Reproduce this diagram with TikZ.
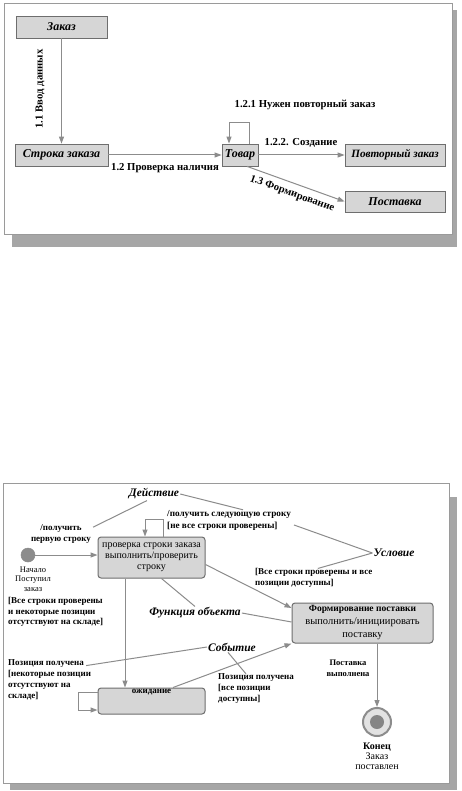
\documentclass[tikz,border=0pt]{standalone}
\usepackage{fontspec}
\setmainfont{Liberation Serif}
\usetikzlibrary{arrows.meta}
\definecolor{lc}{HTML}{8C8C8C}
\definecolor{bd}{HTML}{6E6E6E}
\definecolor{bf}{HTML}{D6D6D6}
\definecolor{fr}{HTML}{9A9A9A}
\definecolor{sh}{HTML}{A6A6A6}
\tikzset{
  frame/.style={draw=fr,line width=1pt,fill=white},
  shadowbox/.style={fill=sh},
  topbox/.style={draw=bd,fill=bf,line width=0.8pt,rectangle,inner sep=0pt,font=\fontsize{12}{14}\selectfont\bfseries\itshape},
  toplbl/.style={inner sep=0pt,font=\fontsize{10.7}{12}\selectfont\bfseries},
  gl/.style={draw=lc,line width=1pt},
  arr/.style={gl,-{Triangle[length=7pt,width=5pt]},color=lc},
  stbox/.style={draw=bd,fill=bf,line width=1pt,rounded corners=3pt,inner sep=0pt,align=center,font=\fontsize{10}{11}\selectfont},
  txt/.style={inner sep=0pt,align=left,font=\fontsize{9}{10.5}\selectfont\bfseries},
  ctxt/.style={inner sep=0pt,align=center,font=\fontsize{8.5}{9.5}\selectfont},
  big/.style={inner sep=1pt,font=\fontsize{11.5}{13}\selectfont\bfseries\itshape},
}
\begin{document}
\begin{tikzpicture}[x=1pt,y=-1pt]
\useasboundingbox (0,0) rectangle (462,791);
% ---------- top diagram ----------
\fill[shadowbox] (12,10) rectangle (457,247);
\draw[frame] (4,4) rectangle (452,235);
\node[topbox,minimum width=91pt,minimum height=22pt] (zakaz) at (61.5,27) {Заказ};
\node[topbox,minimum width=93pt,minimum height=22pt] (stroka) at (61.5,155) {Строка заказа};
\node[topbox,minimum width=36pt,minimum height=22pt] (tovar) at (240,155) {Товар};
\node[topbox,minimum width=100pt,minimum height=22pt,font=\fontsize{11.2}{14}\selectfont\bfseries\itshape] (povt) at (395,155) {Повторный заказ};
\node[topbox,minimum width=100pt,minimum height=21pt] (post) at (395,201.5) {Поставка};
\draw[arr] (zakaz) -- (stroka);
\draw[arr] (stroka) -- (tovar);
\draw[arr] (tovar) -- (povt);
\draw[arr] ([xshift=7pt]tovar.south) -- (post.west);
\draw[arr] ([xshift=9pt]tovar.north) -- ++(0,-21) -| ([xshift=-11pt]tovar.north);
\node[toplbl,rotate=90] (l11) at (40,89) {1.1 Ввод данных};
\node[toplbl] (l12) at (165,168) {1.2 Проверка наличия};
\node[toplbl] (l122) at (301,143) {1.2.2. Создание};
\node[toplbl] (l121) at (305,105) {1.2.1 Нужен повторный заказ};
\node[toplbl,rotate=-20] (l13) at (292,194) {1.3 Формирование};
% ---------- bottom diagram ----------
\fill[shadowbox] (10,497) rectangle (457,790);
\draw[frame] (3,483) rectangle (449,783);
\node[big] (act) at (154,494) {Действие};
\node[ctxt,font=\fontsize{9}{11.5}\selectfont\bfseries] (a1) at (61,534) {/получить\\первую строку};
\node[circle,fill=lc,draw=bd!80,line width=0.5pt,minimum size=14pt,inner sep=0pt] (start) at (28,555) {};
\node[ctxt] (startl) at (33,579) {Начало\\Поступил\\заказ};
\node[stbox,minimum width=107pt,minimum height=41pt] (b1) at (151.5,557.5) {проверка строки заказа\\выполнить/проверить\\строку};
\node[txt,anchor=west,font=\fontsize{9.2}{12}\selectfont\bfseries] (a2) at (167,520) {/получить следующую строку\\{}[не все строки проверены]};
\node[big] (cond) at (394,553) {Условие};
\node[txt,anchor=west] (g1) at (255,578) {[Все строки проверены и все\\позиции доступны]};
\node[stbox,minimum width=141pt,minimum height=40pt,font=\fontsize{10.5}{13}\selectfont] (b2) at (362.5,623) {{\fontsize{9.5}{13}\selectfont\bfseries Формирование поставки}\\выполнить/инициировать\\поставку};
\node[big] (func) at (195,613) {Функция объекта};
\node[txt,anchor=west] (g2) at (8,612) {[Все строки проверены\\и некоторые позиции\\отсутствуют на складе]};
\node[big] (ev) at (232,647) {Событие};
\node[txt,anchor=west,font=\fontsize{9}{11}\selectfont\bfseries] (p1) at (8,680) {Позиция получена\\{}[некоторые позиции\\отсутствуют на\\складе]};
\node[stbox,minimum width=107pt,minimum height=26pt,label={[anchor=north,inner sep=0pt,yshift=-2pt,font=\fontsize{9}{10}\selectfont\bfseries]north:ожидание}] (b3) at (151.5,701) {};
\node[txt,anchor=west,font=\fontsize{9}{11}\selectfont\bfseries] (p2) at (218,689) {Позиция получена\\{}[все позиции\\доступны]};
\node[ctxt,font=\fontsize{8.5}{11}\selectfont\bfseries] (done) at (348,668) {Поставка\\выполнена};
\node[circle,draw=lc,line width=2pt,fill=bf!70,minimum size=28pt,inner sep=0pt] (final) at (377,722) {};
\node[circle,fill=lc!95!black,minimum size=14pt,inner sep=0pt] (finalin) at (final) {};
\node[ctxt,font=\fontsize{10}{10}\selectfont] (endl) at (377,756) {\textbf{Конец}\\Заказ\\поставлен};
% connectors
\draw[gl] ([xshift=-7pt]act.south) -- ([xshift=2pt,yshift=-3pt]a1.north east);
\draw[gl] (act.east) -- ([xshift=14pt]a2.north);
\draw[arr] (start.east) -- (start.east -| b1.west);
\draw[arr] ([xshift=11.5pt]b1.north) -- ++(0,-17) -| ([xshift=-6.5pt]b1.north);
\draw[gl] (cond.west) -- ([xshift=3pt,yshift=-5pt]a2.east);
\draw[gl] (cond.west) -- ([xshift=4pt]g1.north);
\draw[arr] ([yshift=-7pt]b1.east) -- ([yshift=15pt]b2.west);
\draw[gl] (func.north) -- ([xshift=10pt]b1.south);
\draw[gl] (func.east) -- ([yshift=1pt]b2.west);
\draw[arr] ([xshift=-26.5pt]b1.south) -- ([xshift=-26.5pt]b3.north);
\draw[gl] (ev.west) -- ([xshift=-5pt,yshift=-6pt]p1.north east);
\draw[gl] ([xshift=-4pt]ev.south) -- ([xshift=-10pt]p2.north);
\draw[arr] ([xshift=21.5pt]b3.north) -- (b2.south west);
\draw[arr] ([yshift=9pt]b3.west) -- ++(-19,0) |- ([yshift=-9pt]b3.west);
\draw[arr] ([xshift=14.5pt]b2.south) -- (final.north);
\end{tikzpicture}
\end{document}
